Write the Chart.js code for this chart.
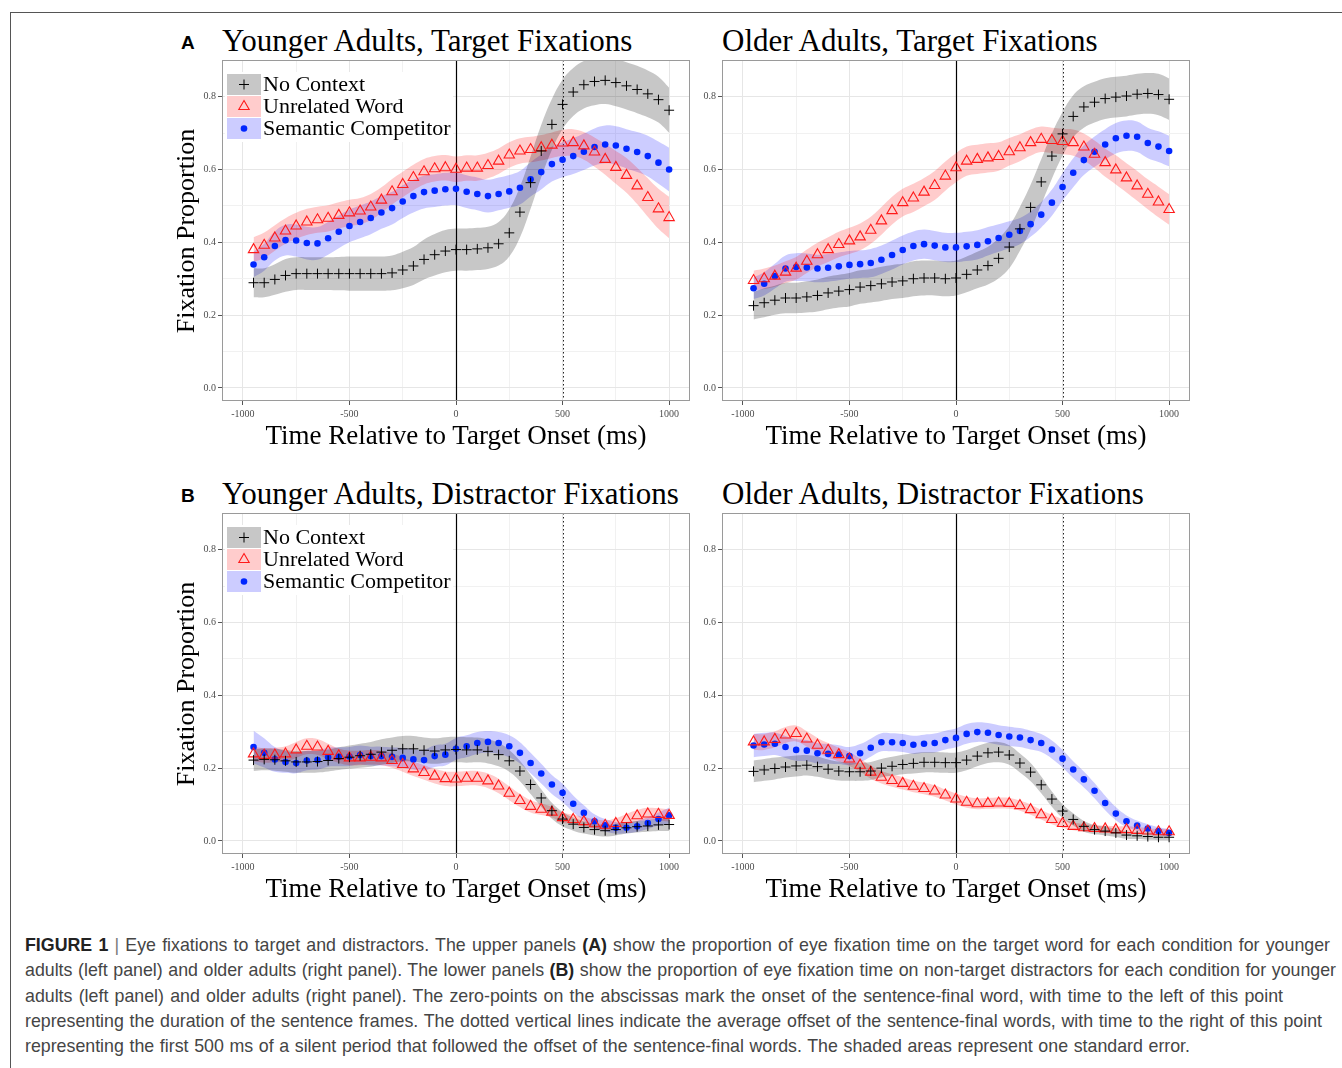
<!DOCTYPE html>
<html>
<head>
<meta charset="utf-8">
<script src="https://cdn.jsdelivr.net/npm/chart.js@4.4.1/dist/chart.umd.min.js"></script>
<style>
  body { margin: 0; background: #fff; width: 1342px; height: 1068px; overflow: hidden; position: relative; font-family: 'Liberation Serif', serif; }
  .frame { position: absolute; left: 10px; top: 12px; width: 1340px; height: 1060px; border-left: 1.5px solid #555; border-top: 1.5px solid #555; }
  canvas { position: absolute; }
  .title { position: absolute; font-size: 31px; line-height: 30px; white-space: nowrap; color: #000; }
  .tag { position: absolute; font-family: 'Liberation Sans', sans-serif; font-weight: bold; font-size: 19px; line-height: 19px; }
  .xlab { position: absolute; width: 468px; height: 30px; line-height: 30px; text-align: center; font-size: 27px; white-space: nowrap; }
  .ylab { position: absolute; width: 341px; height: 30px; line-height: 30px; text-align: center; font-size: 26px; white-space: nowrap; transform: rotate(-90deg); }
  .caption { position: absolute; left: 25px; top: 933px; font-family: 'Liberation Sans', sans-serif; font-size: 17.8px; line-height: 25.3px; color: #454545; }
  .caption div { height: 25.3px; text-align: justify; text-align-last: justify; }
  .caption b { color: #222; }
  .caption .bar { color: #777; }
</style>
</head>
<body>
<div class="frame"></div>

<div class="tag" style="left:181px; top:33px;">A</div>
<div class="title" style="left:222px; top:26px;">Younger Adults, Target Fixations</div>
<div class="title" style="left:722px; top:26px;">Older Adults, Target Fixations</div>
<div class="tag" style="left:181px; top:486px;">B</div>
<div class="title" style="left:222px; top:479px;">Younger Adults, Distractor Fixations</div>
<div class="title" style="left:722px; top:479px;">Older Adults, Distractor Fixations</div>

<canvas id="youngTarget" width="508" height="378" style="left:190px; top:52px;"></canvas>
<canvas id="oldTarget" width="508" height="378" style="left:690px; top:52px;"></canvas>
<canvas id="youngDist" width="508" height="378" style="left:190px; top:505px;"></canvas>
<canvas id="oldDist" width="508" height="378" style="left:690px; top:505px;"></canvas>

<div class="ylab" style="left:15px; top:216px;">Fixation Proportion</div>
<div class="ylab" style="left:15px; top:669px;">Fixation Proportion</div>
<div class="xlab" style="left:222px; top:420px;">Time Relative to Target Onset (ms)</div>
<div class="xlab" style="left:722px; top:420px;">Time Relative to Target Onset (ms)</div>
<div class="xlab" style="left:222px; top:873px;">Time Relative to Target Onset (ms)</div>
<div class="xlab" style="left:722px; top:873px;">Time Relative to Target Onset (ms)</div>

<div class="caption">
<div style="width:1305px"><b>FIGURE 1</b> <span class="bar">|</span> Eye fixations to target and distractors. The upper panels <b>(A)</b> show the proportion of eye fixation time on the target word for each condition for younger</div>
<div style="width:1311px">adults (left panel) and older adults (right panel). The lower panels <b>(B)</b> show the proportion of eye fixation time on non-target distractors for each condition for younger</div>
<div style="width:1258px">adults (left panel) and older adults (right panel). The zero-points on the abscissas mark the onset of the sentence-final word, with time to the left of this point</div>
<div style="width:1297px">representing the duration of the sentence frames. The dotted vertical lines indicate the average offset of the sentence-final words, with time to the right of this point</div>
<div style="width:1165px">representing the first 500 ms of a silent period that followed the offset of the sentence-final words. The shaded areas represent one standard error.</div>
</div>

<script>
// time bins (ms relative to target onset)
const timeMs = [-950, -900, -850, -800, -750, -700, -650, -600, -550, -500,
                -450, -400, -350, -300, -250, -200, -150, -100, -50, 0,
                50, 100, 150, 200, 250, 300, 350, 400, 450, 500,
                550, 600, 650, 700, 750, 800, 850, 900, 950, 1000];

const xTickMs = [-1000, -500, 0, 500, 1000];
const xGridMs = [-1000, -750, -500, -250, 0, 250, 500, 750, 1000];
const yTickVals = [0, 0.2, 0.4, 0.6, 0.8];
const yGridVals = [0, 0.1, 0.2, 0.3, 0.4, 0.5, 0.6, 0.7, 0.8];
const onsetMs = 0;
const offsetMs = 500;
const legendLabels = ['No Context', 'Unrelated Word', 'Semantic Competitor'];

// A: younger adults, target fixations
const youngTargetNoContext = [0.289, 0.289, 0.298, 0.309, 0.314, 0.314, 0.314, 0.314, 0.314, 0.314, 0.314, 0.314, 0.314, 0.316, 0.324, 0.335, 0.353, 0.366, 0.376, 0.380,
  0.380, 0.382, 0.385, 0.396, 0.426, 0.483, 0.564, 0.651, 0.724, 0.779, 0.813, 0.833, 0.842, 0.845, 0.839, 0.830, 0.820, 0.808, 0.792, 0.763];
const youngTargetNoContextSe = [0.040, 0.040, 0.042, 0.045, 0.045, 0.045, 0.045, 0.045, 0.046, 0.047, 0.047, 0.047, 0.047, 0.048, 0.050, 0.052, 0.055, 0.057, 0.058, 0.058,
  0.058, 0.058, 0.058, 0.060, 0.065, 0.070, 0.072, 0.072, 0.070, 0.068, 0.066, 0.065, 0.065, 0.065, 0.065, 0.065, 0.065, 0.064, 0.063, 0.062];
const youngTargetUnrelated = [0.380, 0.392, 0.412, 0.431, 0.445, 0.456, 0.462, 0.466, 0.474, 0.481, 0.486, 0.497, 0.516, 0.539, 0.559, 0.578, 0.594, 0.602, 0.605, 0.601,
  0.604, 0.604, 0.611, 0.623, 0.640, 0.651, 0.655, 0.660, 0.667, 0.673, 0.674, 0.665, 0.648, 0.628, 0.606, 0.584, 0.555, 0.523, 0.492, 0.468];
const youngTargetUnrelatedSe = [0.034, 0.035, 0.035, 0.035, 0.036, 0.036, 0.036, 0.036, 0.036, 0.036, 0.036, 0.036, 0.035, 0.035, 0.035, 0.035, 0.035, 0.035, 0.035, 0.035,
  0.035, 0.035, 0.035, 0.035, 0.035, 0.035, 0.035, 0.035, 0.035, 0.036, 0.037, 0.038, 0.040, 0.042, 0.045, 0.048, 0.050, 0.053, 0.055, 0.057];
const youngTargetSemantic = [0.339, 0.359, 0.390, 0.406, 0.405, 0.398, 0.397, 0.411, 0.429, 0.445, 0.456, 0.467, 0.482, 0.494, 0.512, 0.527, 0.538, 0.542, 0.546, 0.547,
  0.539, 0.533, 0.527, 0.533, 0.540, 0.550, 0.573, 0.593, 0.615, 0.627, 0.637, 0.649, 0.662, 0.669, 0.666, 0.657, 0.648, 0.637, 0.619, 0.600];
const youngTargetSemanticSe = [0.035, 0.037, 0.040, 0.042, 0.044, 0.045, 0.045, 0.045, 0.045, 0.045, 0.045, 0.045, 0.045, 0.045, 0.045, 0.045, 0.045, 0.045, 0.045, 0.045,
  0.045, 0.045, 0.045, 0.045, 0.045, 0.046, 0.047, 0.048, 0.048, 0.048, 0.049, 0.050, 0.051, 0.052, 0.053, 0.054, 0.055, 0.056, 0.058, 0.060];

// A: older adults, target fixations
const oldTargetNoContext = [0.226, 0.234, 0.241, 0.247, 0.247, 0.250, 0.254, 0.261, 0.266, 0.270, 0.277, 0.281, 0.286, 0.291, 0.294, 0.300, 0.302, 0.302, 0.300, 0.302,
  0.312, 0.324, 0.336, 0.356, 0.387, 0.437, 0.496, 0.566, 0.637, 0.698, 0.746, 0.772, 0.785, 0.795, 0.799, 0.802, 0.807, 0.809, 0.806, 0.793];
const oldTargetNoContextSe = [0.038, 0.040, 0.040, 0.042, 0.042, 0.043, 0.044, 0.045, 0.045, 0.046, 0.046, 0.046, 0.047, 0.047, 0.047, 0.048, 0.048, 0.048, 0.048, 0.048,
  0.049, 0.050, 0.052, 0.055, 0.058, 0.060, 0.062, 0.062, 0.062, 0.060, 0.058, 0.057, 0.056, 0.056, 0.056, 0.056, 0.056, 0.056, 0.057, 0.057];
const oldTargetUnrelated = [0.295, 0.300, 0.307, 0.318, 0.329, 0.348, 0.366, 0.380, 0.394, 0.404, 0.415, 0.433, 0.459, 0.487, 0.509, 0.522, 0.538, 0.556, 0.582, 0.605,
  0.623, 0.628, 0.632, 0.636, 0.649, 0.660, 0.674, 0.683, 0.680, 0.677, 0.674, 0.662, 0.642, 0.619, 0.599, 0.577, 0.555, 0.532, 0.511, 0.490];
const oldTargetUnrelatedSe = [0.027, 0.028, 0.029, 0.030, 0.031, 0.032, 0.033, 0.034, 0.035, 0.036, 0.037, 0.037, 0.038, 0.038, 0.038, 0.039, 0.039, 0.040, 0.040, 0.040,
  0.040, 0.040, 0.040, 0.039, 0.038, 0.037, 0.036, 0.035, 0.035, 0.035, 0.036, 0.037, 0.038, 0.039, 0.040, 0.040, 0.041, 0.041, 0.042, 0.042];
const oldTargetSemantic = [0.274, 0.286, 0.307, 0.328, 0.332, 0.331, 0.328, 0.330, 0.334, 0.338, 0.340, 0.343, 0.352, 0.365, 0.379, 0.390, 0.395, 0.391, 0.386, 0.386,
  0.389, 0.393, 0.403, 0.412, 0.421, 0.431, 0.450, 0.476, 0.509, 0.552, 0.591, 0.626, 0.649, 0.669, 0.686, 0.693, 0.690, 0.673, 0.663, 0.651];
const oldTargetSemanticSe = [0.030, 0.032, 0.034, 0.036, 0.038, 0.038, 0.038, 0.038, 0.038, 0.038, 0.038, 0.039, 0.039, 0.040, 0.040, 0.040, 0.040, 0.040, 0.040, 0.040,
  0.040, 0.040, 0.039, 0.038, 0.037, 0.036, 0.035, 0.035, 0.036, 0.038, 0.040, 0.041, 0.042, 0.042, 0.042, 0.042, 0.042, 0.042, 0.042, 0.042];

// B: younger adults, distractor fixations
const youngDistNoContext = [0.222, 0.224, 0.223, 0.220, 0.217, 0.217, 0.218, 0.221, 0.226, 0.230, 0.234, 0.238, 0.244, 0.249, 0.253, 0.253, 0.249, 0.247, 0.250, 0.251,
  0.250, 0.250, 0.246, 0.237, 0.220, 0.192, 0.155, 0.118, 0.083, 0.060, 0.046, 0.037, 0.031, 0.028, 0.031, 0.036, 0.039, 0.041, 0.044, 0.045];
const youngDistNoContextSe = [0.030, 0.030, 0.030, 0.030, 0.030, 0.030, 0.030, 0.030, 0.031, 0.032, 0.033, 0.034, 0.035, 0.035, 0.035, 0.035, 0.035, 0.035, 0.035, 0.035,
  0.035, 0.034, 0.033, 0.032, 0.030, 0.028, 0.026, 0.024, 0.022, 0.020, 0.018, 0.017, 0.016, 0.016, 0.016, 0.016, 0.016, 0.016, 0.017, 0.018];
const youngDistUnrelated = [0.239, 0.235, 0.236, 0.239, 0.250, 0.260, 0.258, 0.246, 0.234, 0.228, 0.228, 0.230, 0.228, 0.221, 0.210, 0.198, 0.188, 0.178, 0.171, 0.170,
  0.172, 0.172, 0.165, 0.151, 0.131, 0.111, 0.095, 0.087, 0.079, 0.064, 0.059, 0.053, 0.047, 0.043, 0.048, 0.059, 0.069, 0.074, 0.073, 0.070];
const youngDistUnrelatedSe = [0.020, 0.020, 0.020, 0.021, 0.022, 0.022, 0.022, 0.021, 0.020, 0.020, 0.020, 0.020, 0.020, 0.020, 0.020, 0.020, 0.020, 0.020, 0.020, 0.020,
  0.020, 0.020, 0.020, 0.020, 0.019, 0.018, 0.017, 0.016, 0.015, 0.014, 0.013, 0.013, 0.013, 0.013, 0.014, 0.015, 0.016, 0.017, 0.017, 0.017];
const youngDistSemantic = [0.258, 0.242, 0.224, 0.217, 0.214, 0.221, 0.222, 0.230, 0.231, 0.232, 0.236, 0.233, 0.233, 0.231, 0.228, 0.224, 0.222, 0.233, 0.237, 0.253,
  0.260, 0.269, 0.272, 0.269, 0.260, 0.242, 0.214, 0.185, 0.155, 0.132, 0.102, 0.077, 0.054, 0.043, 0.036, 0.036, 0.040, 0.049, 0.060, 0.070];
const youngDistSemanticSe = [0.045, 0.040, 0.034, 0.030, 0.028, 0.027, 0.026, 0.026, 0.026, 0.026, 0.026, 0.026, 0.026, 0.026, 0.027, 0.028, 0.029, 0.030, 0.030, 0.030,
  0.030, 0.030, 0.030, 0.030, 0.030, 0.029, 0.028, 0.027, 0.026, 0.025, 0.023, 0.021, 0.019, 0.017, 0.016, 0.015, 0.015, 0.016, 0.018, 0.022];

// B: older adults, distractor fixations
const oldDistNoContext = [0.191, 0.195, 0.199, 0.203, 0.206, 0.208, 0.204, 0.197, 0.192, 0.190, 0.190, 0.192, 0.200, 0.205, 0.210, 0.213, 0.216, 0.216, 0.215, 0.215,
  0.222, 0.233, 0.242, 0.244, 0.236, 0.214, 0.189, 0.154, 0.115, 0.082, 0.059, 0.040, 0.031, 0.027, 0.022, 0.016, 0.014, 0.012, 0.010, 0.010];
const oldDistNoContextSe = [0.030, 0.030, 0.030, 0.029, 0.029, 0.028, 0.028, 0.027, 0.026, 0.025, 0.025, 0.025, 0.025, 0.026, 0.027, 0.028, 0.028, 0.028, 0.028, 0.028,
  0.028, 0.028, 0.028, 0.028, 0.027, 0.026, 0.025, 0.023, 0.021, 0.019, 0.017, 0.015, 0.013, 0.012, 0.011, 0.010, 0.009, 0.009, 0.008, 0.008];
const oldDistUnrelated = [0.272, 0.272, 0.279, 0.291, 0.295, 0.280, 0.263, 0.249, 0.237, 0.225, 0.208, 0.189, 0.175, 0.166, 0.158, 0.150, 0.144, 0.137, 0.126, 0.115,
  0.106, 0.102, 0.103, 0.104, 0.103, 0.097, 0.086, 0.072, 0.059, 0.048, 0.040, 0.036, 0.034, 0.033, 0.031, 0.031, 0.029, 0.027, 0.025, 0.025];
const oldDistUnrelatedSe = [0.022, 0.022, 0.022, 0.022, 0.022, 0.021, 0.020, 0.020, 0.019, 0.019, 0.018, 0.018, 0.017, 0.017, 0.017, 0.016, 0.016, 0.016, 0.015, 0.015,
  0.015, 0.015, 0.015, 0.015, 0.015, 0.014, 0.014, 0.013, 0.013, 0.012, 0.011, 0.010, 0.010, 0.009, 0.009, 0.009, 0.009, 0.008, 0.008, 0.008];
const oldDistSemantic = [0.262, 0.265, 0.267, 0.258, 0.250, 0.248, 0.241, 0.239, 0.237, 0.233, 0.241, 0.256, 0.271, 0.271, 0.269, 0.264, 0.267, 0.269, 0.277, 0.283,
  0.294, 0.299, 0.297, 0.291, 0.287, 0.284, 0.277, 0.269, 0.251, 0.226, 0.196, 0.169, 0.138, 0.104, 0.075, 0.054, 0.042, 0.034, 0.027, 0.022];
const oldDistSemanticSe = [0.032, 0.032, 0.031, 0.030, 0.030, 0.029, 0.028, 0.027, 0.026, 0.025, 0.025, 0.025, 0.025, 0.025, 0.025, 0.025, 0.025, 0.026, 0.026, 0.026,
  0.027, 0.027, 0.027, 0.027, 0.027, 0.026, 0.026, 0.025, 0.025, 0.024, 0.023, 0.022, 0.021, 0.020, 0.018, 0.016, 0.014, 0.012, 0.011, 0.010];

const bandColors = ['rgba(0,0,0,0.22)', 'rgba(255,0,0,0.2)', 'rgba(0,0,255,0.2)'];
const pointColors = ['#000000', '#ff1a1a', '#0026ff'];

function isMajor(list, v) {
  return list.some(t => Math.abs(t - v) < 1e-6);
}

// draws a legend marker the same way in the key boxes
function drawMarker(ctx, kind, x, y) {
  ctx.save();
  if (kind === 0) {
    ctx.strokeStyle = pointColors[0];
    ctx.lineWidth = 1;
    ctx.beginPath();
    ctx.moveTo(x - 5, y); ctx.lineTo(x + 5, y);
    ctx.moveTo(x, y - 5); ctx.lineTo(x, y + 5);
    ctx.stroke();
  } else if (kind === 1) {
    const r = 6;
    ctx.strokeStyle = pointColors[1];
    ctx.lineWidth = 1.1;
    ctx.beginPath();
    ctx.moveTo(x, y - r);
    ctx.lineTo(x + r * 0.866, y + r / 2);
    ctx.lineTo(x - r * 0.866, y + r / 2);
    ctx.closePath();
    ctx.stroke();
  } else {
    ctx.fillStyle = pointColors[2];
    ctx.beginPath();
    ctx.arc(x, y, 3.3, 0, Math.PI * 2);
    ctx.fill();
  }
  ctx.restore();
}

const panelDecor = {
  id: 'panelDecor',
  beforeDatasetsDraw(chart) {
    const { ctx, chartArea: a, scales: { x } } = chart;
    ctx.save();
    const x0 = Math.round(x.getPixelForValue(onsetMs)) + 0.5;
    ctx.strokeStyle = '#000';
    ctx.lineWidth = 1.2;
    ctx.beginPath();
    ctx.moveTo(x0, a.top);
    ctx.lineTo(x0, a.bottom);
    ctx.stroke();
    const x5 = Math.round(x.getPixelForValue(offsetMs)) + 0.5;
    ctx.setLineDash([1.5, 2.5]);
    ctx.lineWidth = 1;
    ctx.strokeStyle = '#222';
    ctx.beginPath();
    ctx.moveTo(x5, a.top);
    ctx.lineTo(x5, a.bottom);
    ctx.stroke();
    ctx.restore();
  },
  afterDraw(chart, args, opts) {
    const { ctx, chartArea: a } = chart;
    ctx.save();
    ctx.strokeStyle = '#9a9a9a';
    ctx.lineWidth = 1;
    ctx.strokeRect(a.left + 0.5, a.top + 0.5, a.right - a.left - 1, a.bottom - a.top - 1);
    if (opts.legend) {
      const lx = a.left + 5, ly = a.top + 14;
      ctx.fillStyle = '#fff';
      ctx.fillRect(lx - 2, ly - 2, 228, 70);
      ctx.font = '22px "Liberation Serif"';
      ctx.textBaseline = 'middle';
      legendLabels.forEach((label, i) => {
        const top = ly + i * 22;
        ctx.fillStyle = bandColors[i];
        ctx.fillRect(lx, top, 34, 21);
        drawMarker(ctx, i, lx + 17, top + 10.5);
        ctx.fillStyle = '#000';
        ctx.fillText(label, lx + 36, top + 11);
      });
    }
    ctx.restore();
  }
};

function bandPair(mean, se, color) {
  const upper = {
    data: timeMs.map((t, i) => ({ x: t, y: mean[i] + se[i] })),
    fill: '+1', backgroundColor: color, borderWidth: 0, pointRadius: 0,
    tension: 0.4, order: 3
  };
  const lower = {
    data: timeMs.map((t, i) => ({ x: t, y: mean[i] - se[i] })),
    fill: false, borderWidth: 0, pointRadius: 0, tension: 0.4, order: 3
  };
  return [upper, lower];
}

function makePanel(id, nc, ncSe, uw, uwSe, sc, scSe, showLegend) {
  const tickFont = { family: 'Liberation Serif', size: 10 };
  new Chart(document.getElementById(id), {
    type: 'line',
    data: {
      datasets: [
        ...bandPair(nc, ncSe, bandColors[0]),
        ...bandPair(uw, uwSe, bandColors[1]),
        ...bandPair(sc, scSe, bandColors[2]),
        {
          label: legendLabels[0],
          data: timeMs.map((t, i) => ({ x: t, y: nc[i] })),
          showLine: false, pointStyle: 'cross', pointRadius: 5,
          borderColor: pointColors[0], borderWidth: 1, order: 1
        },
        {
          label: legendLabels[1],
          data: timeMs.map((t, i) => ({ x: t, y: uw[i] })),
          showLine: false, pointStyle: 'triangle', pointRadius: 6,
          borderColor: pointColors[1], backgroundColor: 'rgba(0,0,0,0)', borderWidth: 1.1, order: 1
        },
        {
          label: legendLabels[2],
          data: timeMs.map((t, i) => ({ x: t, y: sc[i] })),
          showLine: false, pointStyle: 'circle', pointRadius: 3.3,
          backgroundColor: pointColors[2], borderWidth: 0, order: 1
        }
      ]
    },
    options: {
      responsive: false,
      animation: false,
      events: [],
      layout: { padding: { left: 0, right: 8, top: 8, bottom: 0 } },
      scales: {
        x: {
          type: 'linear', min: -1098, max: 1098,
          afterBuildTicks: s => { s.ticks = xGridMs.map(v => ({ value: v })); },
          afterFit: s => { s.height = 29; },
          border: { display: false },
          grid: {
            color: c => isMajor(xTickMs, c.tick.value) ? '#e6e6e6' : '#f1f1f1',
            tickColor: c => isMajor(xTickMs, c.tick.value) ? '#555' : 'rgba(0,0,0,0)',
            tickLength: 4, lineWidth: 1
          },
          ticks: {
            autoSkip: false, maxRotation: 0, padding: 3,
            font: tickFont, color: '#4d4d4d',
            callback: v => isMajor(xTickMs, v) ? String(v) : ''
          }
        },
        y: {
          type: 'linear', min: -0.036, max: 0.901,
          afterBuildTicks: s => { s.ticks = yGridVals.map(v => ({ value: v })); },
          afterFit: s => { s.width = 32; },
          border: { display: false },
          grid: {
            color: c => isMajor(yTickVals, c.tick.value) ? '#e6e6e6' : '#f1f1f1',
            tickColor: c => isMajor(yTickVals, c.tick.value) ? '#555' : 'rgba(0,0,0,0)',
            tickLength: 4, lineWidth: 1
          },
          ticks: {
            padding: 2, font: tickFont, color: '#4d4d4d',
            callback: v => isMajor(yTickVals, v) ? v.toFixed(1) : ''
          }
        }
      },
      plugins: {
        legend: { display: false },
        tooltip: { enabled: false },
        panelDecor: { legend: showLegend }
      }
    },
    plugins: [panelDecor]
  });
}

makePanel('youngTarget', youngTargetNoContext, youngTargetNoContextSe, youngTargetUnrelated, youngTargetUnrelatedSe, youngTargetSemantic, youngTargetSemanticSe, true);
makePanel('oldTarget', oldTargetNoContext, oldTargetNoContextSe, oldTargetUnrelated, oldTargetUnrelatedSe, oldTargetSemantic, oldTargetSemanticSe, false);
makePanel('youngDist', youngDistNoContext, youngDistNoContextSe, youngDistUnrelated, youngDistUnrelatedSe, youngDistSemantic, youngDistSemanticSe, true);
makePanel('oldDist', oldDistNoContext, oldDistNoContextSe, oldDistUnrelated, oldDistUnrelatedSe, oldDistSemantic, oldDistSemanticSe, false);
</script>
</body>
</html>
